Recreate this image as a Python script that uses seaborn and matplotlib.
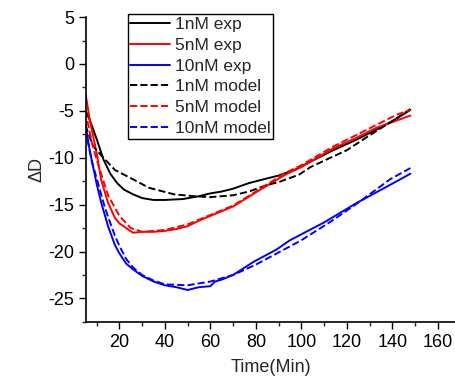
import pandas as pd
import seaborn as sns
import matplotlib.pyplot as plt
from matplotlib.ticker import MultipleLocator

# Datos (tiempo en min, ΔD)
t_exp1 = [5, 7, 10, 13, 16, 19, 22, 26, 30, 35, 40, 48, 55, 60, 65, 70, 77, 85, 90, 97,
          105, 114, 124, 133, 140, 148]
exp_1nM = [-4.9, -6.0, -8.0, -10.2, -11.7, -12.7, -13.4, -13.9, -14.3, -14.5, -14.5, -14.4,
           -14.1, -13.8, -13.6, -13.3, -12.7, -12.2, -11.9, -11.3, -10.3, -9.2, -8.1,
           -7.0, -6.1, -4.9]

t_mod1 = [5, 8.5, 13, 18, 26, 33, 44, 53, 60, 70, 77, 85, 90, 99, 104, 111, 120, 132,
          140, 148]
mod_1nM = [-6.5, -8.8, -10.0, -11.3, -12.3, -13.2, -13.9, -14.1, -14.2, -14.0, -13.6,
           -12.9, -12.6, -11.8, -11.0, -10.2, -9.2, -7.3, -6.1, -4.8]

t_exp5 = [5, 7, 10, 12, 15, 18, 20, 23, 26, 30, 35, 40, 45, 50, 55, 60, 70, 82, 93, 100,
          114, 124, 133, 140, 148]
exp_5nM = [-3.0, -6.0, -9.5, -12.4, -14.8, -16.4, -17.0, -17.5, -18.0, -17.9, -17.9, -17.8,
           -17.6, -17.3, -16.7, -16.2, -15.2, -13.4, -11.8, -11.0, -9.0, -7.9, -6.8,
           -6.2, -5.5]

t_mod5 = [5, 8, 10, 13, 15, 20, 25, 30, 40, 50, 60, 70, 82, 93, 100, 114, 124, 133, 142, 148]
mod_5nM = [-5.0, -8.5, -10.2, -12.5, -14.0, -16.2, -17.5, -17.9, -17.7, -17.1, -16.1, -15.1,
           -13.3, -11.6, -10.8, -8.8, -7.6, -6.5, -5.4, -4.9]

t_exp10 = [5, 7, 10, 12, 15, 18, 20, 23, 26, 30, 35, 40, 45, 50, 55, 60, 62, 65, 70, 79,
           89, 95, 110, 124.5, 139, 148]
exp_10nM = [-6.3, -9.3, -12.8, -14.8, -17.3, -19.3, -20.2, -21.3, -21.9, -22.6, -23.2, -23.6,
            -23.8, -24.1, -23.8, -23.7, -23.2, -23.0, -22.5, -21.1, -19.8, -18.8, -16.9,
            -14.8, -12.9, -11.7]

t_mod10 = [5, 8, 10, 13, 15, 18, 20, 23, 26, 30, 35, 40, 50, 60, 70, 80, 90, 100, 113, 125,
           139, 148]
mod_10nM = [-7.0, -10.5, -12.2, -14.8, -16.3, -18.3, -19.4, -20.8, -21.7, -22.5, -23.1, -23.5,
            -23.6, -23.2, -22.5, -21.4, -20.1, -18.8, -16.8, -14.8, -12.3, -11.1]

sns.set_style("ticks")
plt.rcParams['font.family'] = ['Liberation Sans', 'DejaVu Sans']
plt.rcParams['axes.unicode_minus'] = False

fig = plt.figure(figsize=(4.55, 3.8), dpi=100)
ax = fig.add_axes([0.189, 0.153, 0.813, 0.802])

series = [
    (t_exp1, exp_1nM, "black", "-", "1nM exp"),
    (t_exp5, exp_5nM, "red", "-", "5nM exp"),
    (t_exp10, exp_10nM, "blue", "-", "10nM exp"),
    (t_mod1, mod_1nM, "black", "--", "1nM model"),
    (t_mod5, mod_5nM, "red", "--", "5nM model"),
    (t_mod10, mod_10nM, "blue", "--", "10nM model"),
]
for tt, vals, col, ls, lab in series:
    sns.lineplot(x=tt, y=vals, color=col, linestyle=ls, linewidth=1.4, label=lab, ax=ax)

ax.set_xlim(5.3, 168)
ax.set_ylim(-27.5, 5)
ax.xaxis.set_major_locator(MultipleLocator(20))
ax.xaxis.set_minor_locator(MultipleLocator(10))
ax.yaxis.set_major_locator(MultipleLocator(5))
ax.yaxis.set_minor_locator(MultipleLocator(2.5))
ax.tick_params(which="major", direction="out", length=5, width=1, labelsize=13, colors="black")
ax.tick_params(which="minor", direction="out", length=3, width=1)
sns.despine(ax=ax)
for s in ["left", "bottom"]:
    ax.spines[s].set_linewidth(1.2)
    ax.spines[s].set_color("black")

ax.set_xlabel("Time(Min)", fontsize=13, labelpad=6)
ax.set_ylabel("ΔD", fontsize=13, labelpad=2)

leg = ax.legend(loc="upper left", bbox_to_anchor=(0.281, 0.963), bbox_transform=fig.transFigure,
                fontsize=12.5, frameon=True, fancybox=False, edgecolor="black", framealpha=1,
                handlelength=2.3, handletextpad=0.25, borderpad=0.15, labelspacing=0.33,
                borderaxespad=0)
leg.get_frame().set_linewidth(1.0)

fig.savefig("out.png", dpi=100)
